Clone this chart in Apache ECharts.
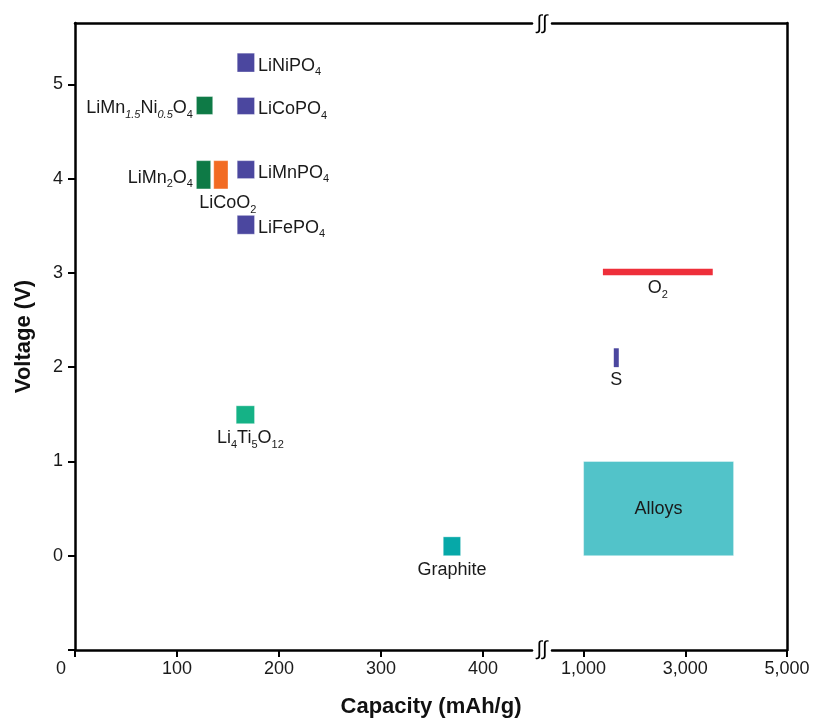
<!DOCTYPE html>
<html>
<head>
<meta charset="utf-8">
<script src="https://cdn.jsdelivr.net/npm/echarts@6/dist/echarts.min.js"></script>
<style>
  html, body { margin: 0; padding: 0; background: #fff; }
  #chart { width: 814px; height: 719px; }
</style>
</head>
<body>
<div id="chart"></div>
<script>
// electrode materials drawn as boxes: capacity range (mAh/g) x voltage range (V)
const materials = ['LiNiPO4', 'LiCoPO4', 'LiMnPO4', 'LiFePO4', 'LiMn1.5Ni0.5O4', 'LiMn2O4', 'LiCoO2', 'Li4Ti5O12', 'Graphite'];
const capLow   = [159, 159, 159, 159, 119, 119, 136, 158, 361];
const capHigh  = [176, 176, 176, 176, 135, 133, 150, 176, 378];
const voltLow  = [5.13, 4.68, 4.00, 3.41, 4.68, 3.89, 3.89, 1.40, 0.00];
const voltHigh = [5.33, 4.86, 4.19, 3.61, 4.87, 4.19, 4.19, 1.59, 0.20];

// high capacity side of the broken axis
const alloysCap = [1000, 3950];
const alloysVolt = [0, 1];
const o2Cap = [1380, 3540];
const o2Volt = 3.01;
const sCap = 1643;
const sVolt = [2.0, 2.2];

// tick labels
const leftTicks = [0, 100, 200, 300, 400];
const rightTicks = [1000, 3000, 5000];
const voltTicks = [-1, 0, 1, 2, 3, 4, 5];
const voltLabels = [0, 1, 2, 3, 4, 5];

// label markup (subscripts)
const labelText = {
  'LiNiPO4': 'LiNiPO{s|4}',
  'LiCoPO4': 'LiCoPO{s|4}',
  'LiMnPO4': 'LiMnPO{s|4}',
  'LiFePO4': 'LiFePO{s|4}',
  'LiMn1.5Ni0.5O4': 'LiMn{si|1.5}Ni{si|0.5}O{s|4}',
  'LiMn2O4': 'LiMn{s|2}O{s|4}',
  'LiCoO2': 'LiCoO{s|2}',
  'Li4Ti5O12': 'Li{s|4}Ti{s|5}O{s|12}',
  'Graphite': 'Graphite'
};

const PURPLE = '#4b479f';
const colors = {
  'LiNiPO4': PURPLE, 'LiCoPO4': PURPLE, 'LiMnPO4': PURPLE, 'LiFePO4': PURPLE,
  'LiMn1.5Ni0.5O4': '#0e7a46', 'LiMn2O4': '#0e7a46', 'LiCoO2': '#f26b23',
  'Li4Ti5O12': '#15b286', 'Graphite': '#06a8a8'
};
const labelPos = {
  'LiNiPO4': ['right', [0, 3]], 'LiCoPO4': ['right', [0, 3]], 'LiMnPO4': ['right', [0, 3]], 'LiFePO4': ['right', [0, 3]],
  'LiMn1.5Ni0.5O4': ['left', [0, 3]], 'LiMn2O4': ['left', [0, 3]],
  'LiCoO2': ['bottom', [7, 0]], 'Li4Ti5O12': ['bottom', [5, 0]], 'Graphite': ['bottom', [0, 0]]
};

const FONT = '"Liberation Sans", Arial, sans-serif';
const rich = {
  s: { fontSize: 11, lineHeight: 24, verticalAlign: 'bottom', fontFamily: FONT, fill: '#1a1a1a' },
  si: { fontSize: 11, lineHeight: 24, verticalAlign: 'bottom', fontStyle: 'italic', fontFamily: FONT, fill: '#1a1a1a' }
};

function labelEl(text) {
  return {
    style: { text: text, fontSize: 18, lineHeight: 24, fontFamily: FONT, fill: '#1a1a1a', rich: rich }
  };
}

const chart = echarts.init(document.getElementById('chart'));

const boxData = materials.map((m, i) => ({ name: m, value: [capLow[i], capHigh[i], voltLow[i], voltHigh[i]] }));

function renderBox(params, api) {
  const name = materials[params.dataIndex];
  const p0 = api.coord([api.value(0), api.value(3)]);
  const p1 = api.coord([api.value(1), api.value(2)]);
  const pos = labelPos[name];
  return {
    type: 'rect',
    shape: { x: p0[0], y: p0[1], width: p1[0] - p0[0], height: p1[1] - p0[1] },
    style: { fill: colors[name], stroke: 'rgba(255,255,255,0.35)', lineWidth: 1 },
    textContent: labelEl(labelText[name]),
    textConfig: { position: pos[0], distance: pos[0] === 'bottom' ? 2 : 3, offset: pos[1] }
  };
}

const axisLineStyle = { show: true, onZero: false, lineStyle: { color: '#000', width: 2.5 } };
const tickStyle = { show: true, length: 7, inside: false, lineStyle: { color: '#000', width: 2 } };
const tickLabel = { fontSize: 18, fontFamily: FONT, color: '#1a1a1a' };

const option = {
  backgroundColor: '#fff',
  animation: false,
  grid: [
    { left: 75, top: 23, width: 457, height: 627, outerBoundsMode: 'none' },
    { left: 552, top: 23, width: 235, height: 627, outerBoundsMode: 'none' }
  ],
  xAxis: [
    {
      type: 'value', gridIndex: 0, position: 'bottom', min: 0, max: 448,
      axisLine: axisLineStyle, splitLine: { show: false },
      axisTick: Object.assign({ customValues: leftTicks }, tickStyle),
      axisLabel: Object.assign({
        customValues: leftTicks, margin: 10,
        // the 0 label sits left of the corner
        formatter: v => (v === 0 ? '{z|0}' : String(v)),
        rich: { z: { fontSize: 18, fontFamily: FONT, color: '#1a1a1a', padding: [0, 28, 0, 0] } }
      }, tickLabel)
    },
    {
      type: 'value', gridIndex: 0, position: 'top', min: 0, max: 448,
      axisLine: axisLineStyle, splitLine: { show: false }, axisTick: { show: false }, axisLabel: { show: false }
    },
    {
      type: 'value', gridIndex: 1, position: 'bottom', min: 379, max: 5000,
      axisLine: axisLineStyle, splitLine: { show: false },
      axisTick: Object.assign({ customValues: rightTicks }, tickStyle),
      axisLabel: Object.assign({ customValues: rightTicks, margin: 10, formatter: v => v.toLocaleString('en-US') }, tickLabel)
    },
    {
      type: 'value', gridIndex: 1, position: 'top', min: 379, max: 5000,
      axisLine: axisLineStyle, splitLine: { show: false }, axisTick: { show: false }, axisLabel: { show: false }
    }
  ],
  yAxis: [
    {
      type: 'value', gridIndex: 0, position: 'left', min: -1, max: 5.65,
      name: 'Voltage (V)', nameLocation: 'middle', nameGap: 40,
      nameTextStyle: { fontSize: 22, fontWeight: 'bold', fontFamily: FONT, color: '#111' },
      axisLine: axisLineStyle, splitLine: { show: false },
      axisTick: Object.assign({ customValues: voltTicks }, tickStyle),
      axisLabel: Object.assign({ customValues: voltLabels, margin: 12 }, tickLabel)
    },
    {
      type: 'value', gridIndex: 1, position: 'right', min: -1, max: 5.65,
      axisLine: axisLineStyle, splitLine: { show: false }, axisTick: { show: false }, axisLabel: { show: false }
    }
  ],
  series: [
    {
      type: 'custom', xAxisIndex: 0, yAxisIndex: 0,
      renderItem: renderBox, data: boxData
    },
    {
      // alloys block
      type: 'custom', xAxisIndex: 2, yAxisIndex: 1,
      data: [[alloysCap[0], alloysCap[1], alloysVolt[0], alloysVolt[1]]],
      renderItem: function (params, api) {
        const p0 = api.coord([api.value(0), api.value(3)]);
        const p1 = api.coord([api.value(1), api.value(2)]);
        return {
          type: 'rect',
          shape: { x: p0[0], y: p0[1], width: p1[0] - p0[0], height: p1[1] - p0[1] },
          style: { fill: '#52c3c9', stroke: 'rgba(255,255,255,0.4)', lineWidth: 1 },
          textContent: labelEl('Alloys'),
          textConfig: { position: 'inside' }
        };
      }
    },
    {
      // O2 and S plateaus
      type: 'custom', xAxisIndex: 2, yAxisIndex: 1,
      data: [
        [o2Cap[0], o2Volt, o2Cap[1], o2Volt],
        [sCap, sVolt[0], sCap, sVolt[1]]
      ],
      renderItem: function (params, api) {
        const a = api.coord([api.value(0), api.value(1)]);
        const b = api.coord([api.value(2), api.value(3)]);
        const isO2 = params.dataIndex === 0;
        const w = isO2 ? 6.5 : 5;
        return {
          type: 'rect',
          shape: isO2
            ? { x: a[0], y: a[1] - w / 2, width: b[0] - a[0], height: w }
            : { x: a[0] - w / 2, y: b[1], width: w, height: a[1] - b[1] },
          style: { fill: isO2 ? '#ee2f3a' : PURPLE },
          textContent: labelEl(isO2 ? 'O{s|2}' : 'S'),
          textConfig: { position: 'bottom', distance: 1 }
        };
      }
    }
  ],
  graphic: [
    { type: 'text', x: 542, y: 23, style: { text: '∫∫', fontSize: 20, fontFamily: FONT, fill: '#000', textAlign: 'center', textVerticalAlign: 'middle' } },
    { type: 'text', x: 542, y: 649, style: { text: '∫∫', fontSize: 20, fontFamily: FONT, fill: '#000', textAlign: 'center', textVerticalAlign: 'middle' } },
    { type: 'text', x: 431, y: 707, style: { text: 'Capacity (mAh/g)', fontSize: 22, fontWeight: 'bold', fontFamily: FONT, fill: '#111', textAlign: 'center', textVerticalAlign: 'middle' } }
  ]
};

chart.setOption(option);
</script>
</body>
</html>
